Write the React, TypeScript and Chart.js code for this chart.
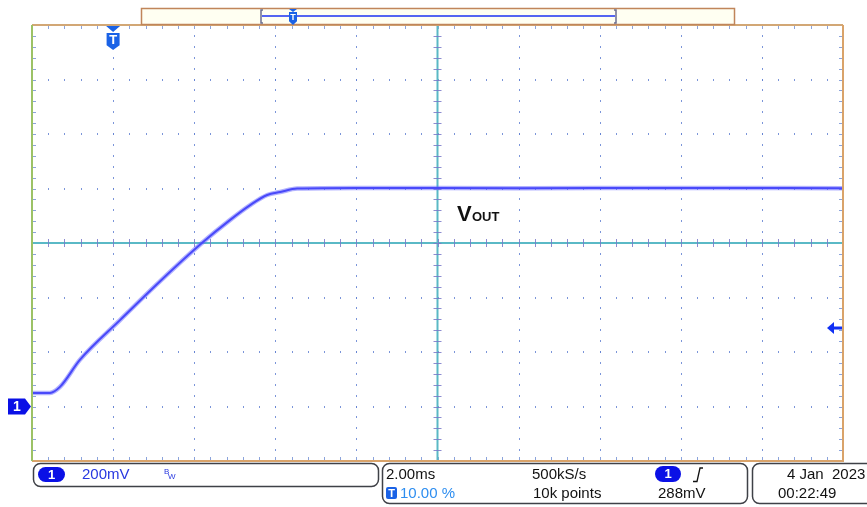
import React, { useEffect, useRef } from "react";
import { Chart, registerables } from "chart.js";

Chart.register(...registerables);

// ---- data (time in ms, voltage in mV, channel 1 referenced to its ground marker) ----
const timeMs = [-2, -1.56, -1.31, -0.82, 0.17, 1.16, 2.19, 2.88, 3.38, 3.8, 4.12, 4.54, 6, 10, 14, 18];
const voutMv = [50, 50, 72, 171, 317, 460, 600, 684, 739, 776, 787, 800, 802, 801, 802, 801];

// axis settings (2 ms/div x 10 div, 200 mV/div x 8 div)
const xMin = -2;
const xMax = 18;
const xDiv = 2;
const yMin = -200;
const yMax = 1400;
const yDiv = 200;
const centerX = 8;
const centerY = 600;
const triggerTime = 0;
const triggerLevel = 288;

// status bar texts
const chScale = "200mV";
const timeScale = "2.00ms";
const triggerPos = "10.00 %";
const sampleRate = "500kS/s";
const recordLen = "10k points";
const trigLevelText = "288mV";
const dateText = "4 Jan  2023";
const timeText = "00:22:49";
const traceLabel = ["V", "OUT"];

const FONT = "'Liberation Sans', Arial, sans-serif";

function roundRect(ctx: CanvasRenderingContext2D, x: number, y: number, w: number, h: number, r: number) {
  ctx.beginPath();
  ctx.moveTo(x + r, y);
  ctx.lineTo(x + w - r, y);
  ctx.arcTo(x + w, y, x + w, y + r, r);
  ctx.lineTo(x + w, y + h - r);
  ctx.arcTo(x + w, y + h, x + w - r, y + h, r);
  ctx.lineTo(x + r, y + h);
  ctx.arcTo(x, y + h, x, y + h - r, r);
  ctx.lineTo(x, y + r);
  ctx.arcTo(x, y, x + r, y, r);
  ctx.closePath();
}

function pill(ctx: CanvasRenderingContext2D, x: number, y: number, w: number, h: number, label: string) {
  roundRect(ctx, x, y, w, h, h / 2);
  ctx.fillStyle = "#0a10e6";
  ctx.fill();
  ctx.fillStyle = "#ffffff";
  ctx.font = "bold 13px " + FONT;
  ctx.textAlign = "center";
  ctx.textBaseline = "middle";
  ctx.fillText(label, x + w / 2, y + h / 2 + 0.5);
}

function shieldT(ctx: CanvasRenderingContext2D, cx: number, top: number, w: number, h: number, fs: number) {
  ctx.beginPath();
  ctx.moveTo(cx - w / 2, top);
  ctx.lineTo(cx + w / 2, top);
  ctx.lineTo(cx + w / 2, top + h * 0.72);
  ctx.lineTo(cx, top + h);
  ctx.lineTo(cx - w / 2, top + h * 0.72);
  ctx.closePath();
  ctx.fillStyle = "#1a62e6";
  ctx.fill();
  ctx.fillStyle = "#ffffff";
  ctx.font = "bold " + fs + "px " + FONT;
  ctx.textAlign = "center";
  ctx.textBaseline = "middle";
  ctx.fillText("T", cx, top + h * 0.45);
}

const scopePlugin = {
  id: "scope",
  beforeDatasetsDraw(chart: any) {
    const ctx: CanvasRenderingContext2D = chart.ctx;
    const xs = chart.scales.x;
    const ys = chart.scales.y;
    const { left, right, top, bottom } = chart.chartArea;
    ctx.save();
    // dotted grid
    ctx.fillStyle = "rgba(100,130,210,0.85)";
    for (let t = xMin + xDiv; t < xMax; t += xDiv) {
      if (Math.abs(t - centerX) < 1e-6) continue;
      const px = Math.round(xs.getPixelForValue(t));
      for (let v = yMin + yDiv / 5; v < yMax; v += yDiv / 5) {
        const py = Math.round(ys.getPixelForValue(v));
        ctx.fillRect(px, py - 1, 1, 2);
      }
    }
    for (let v = yMin + yDiv; v < yMax; v += yDiv) {
      if (Math.abs(v - centerY) < 1e-6) continue;
      const py = Math.round(ys.getPixelForValue(v));
      for (let t = xMin + xDiv / 5; t < xMax; t += xDiv / 5) {
        const px = Math.round(xs.getPixelForValue(t));
        ctx.fillRect(px, py - 1, 1, 2);
      }
    }
    // border inner ticks
    ctx.fillStyle = "rgba(110,140,210,0.8)";
    for (let t = xMin + xDiv / 5; t < xMax; t += xDiv / 5) {
      const px = Math.round(xs.getPixelForValue(t));
      ctx.fillRect(px, top + 1, 1, 3);
      ctx.fillRect(px, bottom - 4, 1, 3);
    }
    for (let v = yMin + yDiv / 5; v < yMax; v += yDiv / 5) {
      const py = Math.round(ys.getPixelForValue(v));
      ctx.fillRect(left + 1, py, 3, 1);
      ctx.fillRect(right - 4, py, 3, 1);
    }
    // center cross
    const cx = xs.getPixelForValue(centerX);
    const cy = ys.getPixelForValue(centerY);
    ctx.strokeStyle = "#5ab9c6";
    ctx.lineWidth = 2;
    ctx.beginPath();
    ctx.moveTo(left, cy);
    ctx.lineTo(right, cy);
    ctx.moveTo(cx, top);
    ctx.lineTo(cx, bottom);
    ctx.stroke();
    ctx.fillStyle = "rgba(120,120,200,0.85)";
    for (let t = xMin + xDiv / 5; t < xMax; t += xDiv / 5) {
      const px = Math.round(xs.getPixelForValue(t));
      ctx.fillRect(px, cy - 4, 1, 8);
    }
    for (let v = yMin + yDiv / 5; v < yMax; v += yDiv / 5) {
      const py = Math.round(ys.getPixelForValue(v));
      ctx.fillRect(cx - 4, py, 8, 1);
    }
    ctx.restore();
  },
  afterDatasetsDraw(chart: any) {
    const ctx: CanvasRenderingContext2D = chart.ctx;
    const xs = chart.scales.x;
    const ys = chart.scales.y;
    const { left, right, top, bottom } = chart.chartArea;
    ctx.save();
    // frame
    ctx.lineWidth = 2;
    ctx.strokeStyle = "#d2a775";
    ctx.beginPath();
    ctx.moveTo(left, top);
    ctx.lineTo(right, top);
    ctx.stroke();
    ctx.strokeStyle = "#d9a36a";
    ctx.beginPath();
    ctx.moveTo(right, top);
    ctx.lineTo(right, bottom);
    ctx.lineTo(left, bottom);
    ctx.stroke();
    ctx.strokeStyle = "#9cc266";
    ctx.beginPath();
    ctx.moveTo(left, top);
    ctx.lineTo(left, bottom);
    ctx.stroke();

    // record view bar at the top
    ctx.fillStyle = "#fffff2";
    ctx.fillRect(141, 8, 594, 17);
    ctx.strokeStyle = "#c0855a";
    ctx.lineWidth = 1.5;
    ctx.strokeRect(141.5, 8.5, 593, 16);
    ctx.strokeStyle = "#5565f2";
    ctx.lineWidth = 2;
    ctx.beginPath();
    ctx.moveTo(262, 16);
    ctx.lineTo(615, 16);
    ctx.stroke();
    ctx.strokeStyle = "#6c6f90";
    ctx.lineWidth = 1.5;
    ctx.beginPath();
    ctx.moveTo(263, 10);
    ctx.lineTo(261, 10);
    ctx.lineTo(261, 23);
    ctx.lineTo(263, 23);
    ctx.moveTo(614, 10);
    ctx.lineTo(616, 10);
    ctx.lineTo(616, 23);
    ctx.lineTo(614, 23);
    ctx.stroke();
    ctx.fillStyle = "#1a62e6";
    ctx.beginPath();
    ctx.moveTo(289, 9);
    ctx.lineTo(297, 9);
    ctx.lineTo(293, 12);
    ctx.closePath();
    ctx.fill();
    shieldT(ctx, 293, 12, 8, 13, 9);

    // trigger time marker
    const tx = xs.getPixelForValue(triggerTime);
    ctx.fillStyle = "#1a62e6";
    ctx.beginPath();
    ctx.moveTo(tx - 7, top + 1);
    ctx.lineTo(tx + 7, top + 1);
    ctx.lineTo(tx, top + 7);
    ctx.closePath();
    ctx.fill();
    shieldT(ctx, tx, top + 8, 13, 17, 13);

    // channel 1 ground marker
    const gy = ys.getPixelForValue(0);
    ctx.fillStyle = "#0a10e6";
    ctx.beginPath();
    ctx.moveTo(8, gy - 8);
    ctx.lineTo(25, gy - 8);
    ctx.lineTo(31, gy);
    ctx.lineTo(25, gy + 8);
    ctx.lineTo(8, gy + 8);
    ctx.closePath();
    ctx.fill();
    ctx.fillStyle = "#ffffff";
    ctx.font = "bold 14px " + FONT;
    ctx.textAlign = "center";
    ctx.textBaseline = "middle";
    ctx.fillText("1", 17, gy + 1);

    // trigger level arrow
    const ly = ys.getPixelForValue(triggerLevel);
    ctx.fillStyle = "#1030f4";
    ctx.beginPath();
    ctx.moveTo(right - 16, ly);
    ctx.lineTo(right - 9, ly - 6);
    ctx.lineTo(right - 9, ly + 6);
    ctx.closePath();
    ctx.fill();
    ctx.fillRect(right - 10, ly - 1.5, 9, 3);

    // trace label
    ctx.fillStyle = "#111111";
    ctx.textAlign = "left";
    ctx.textBaseline = "alphabetic";
    ctx.font = "bold 22px " + FONT;
    ctx.fillText(traceLabel[0], 457, 221);
    ctx.font = "bold 13px " + FONT;
    ctx.fillText(traceLabel[1], 472, 221);

    // status bar
    ctx.strokeStyle = "#3f4147";
    ctx.lineWidth = 1.5;
    roundRect(ctx, 33.5, 463.5, 345, 23, 7);
    ctx.stroke();
    roundRect(ctx, 382.5, 463.5, 365, 40, 7);
    ctx.stroke();
    roundRect(ctx, 752.5, 463.5, 130, 40, 7);
    ctx.stroke();

    pill(ctx, 38, 467, 27, 15, "1");
    ctx.textAlign = "left";
    ctx.textBaseline = "middle";
    ctx.font = "15px " + FONT;
    ctx.fillStyle = "#2838e0";
    ctx.fillText(chScale, 82, 475);
    ctx.font = "8px " + FONT;
    ctx.fillText("B", 164, 472);
    ctx.fillText("W", 168, 477);

    ctx.font = "15px " + FONT;
    ctx.fillStyle = "#111111";
    ctx.fillText(timeScale, 386, 475);
    ctx.fillText(sampleRate, 532, 475);
    ctx.fillText(recordLen, 533, 494);
    ctx.fillText(trigLevelText, 658, 494);
    ctx.fillText(dateText, 787, 475);
    ctx.fillText(timeText, 778, 494);

    roundRect(ctx, 386, 487, 11, 12, 2);
    ctx.fillStyle = "#1a62e6";
    ctx.fill();
    ctx.fillStyle = "#ffffff";
    ctx.font = "bold 11px " + FONT;
    ctx.textAlign = "center";
    ctx.fillText("T", 391.5, 493.5);
    ctx.textAlign = "left";
    ctx.font = "15px " + FONT;
    ctx.fillStyle = "#2e8ef0";
    ctx.fillText(triggerPos, 400, 494);

    pill(ctx, 655, 466, 26, 16, "1");
    ctx.strokeStyle = "#111111";
    ctx.lineWidth = 1.3;
    ctx.beginPath();
    ctx.moveTo(693, 481.5);
    ctx.lineTo(697, 481.5);
    ctx.lineTo(700, 468);
    ctx.lineTo(703, 468);
    ctx.stroke();

    ctx.restore();
  },
};

export default function App() {
  const ref = useRef<HTMLCanvasElement | null>(null);
  useEffect(() => {
    if (!ref.current) return;
    const pts = timeMs.map((t, i) => ({ x: t, y: voutMv[i] }));
    const chart = new Chart(ref.current, {
      type: "line",
      data: {
        datasets: [
          {
            data: pts,
            borderColor: "rgba(100,100,255,0.5)",
            borderWidth: 4.5,
            pointRadius: 0,
            cubicInterpolationMode: "monotone",
          },
          {
            data: pts,
            borderColor: "#2e2ef4",
            borderWidth: 2,
            pointRadius: 0,
            cubicInterpolationMode: "monotone",
          },
        ],
      },
      options: {
        animation: false,
        responsive: false,
        events: [],
        layout: { padding: { left: 32, right: 24, top: 25, bottom: 46 } },
        plugins: { legend: { display: false }, tooltip: { enabled: false } },
        scales: {
          x: { type: "linear", min: xMin, max: xMax, display: false },
          y: { type: "linear", min: yMin, max: yMax, display: false },
        },
      },
      plugins: [scopePlugin],
    });
    return () => chart.destroy();
  }, []);
  return (
    <div style={{ position: "fixed", left: 0, top: 0, width: 867, height: 507, background: "#ffffff" }}>
      <canvas ref={ref} width={867} height={507} style={{ display: "block" }} />
    </div>
  );
}
